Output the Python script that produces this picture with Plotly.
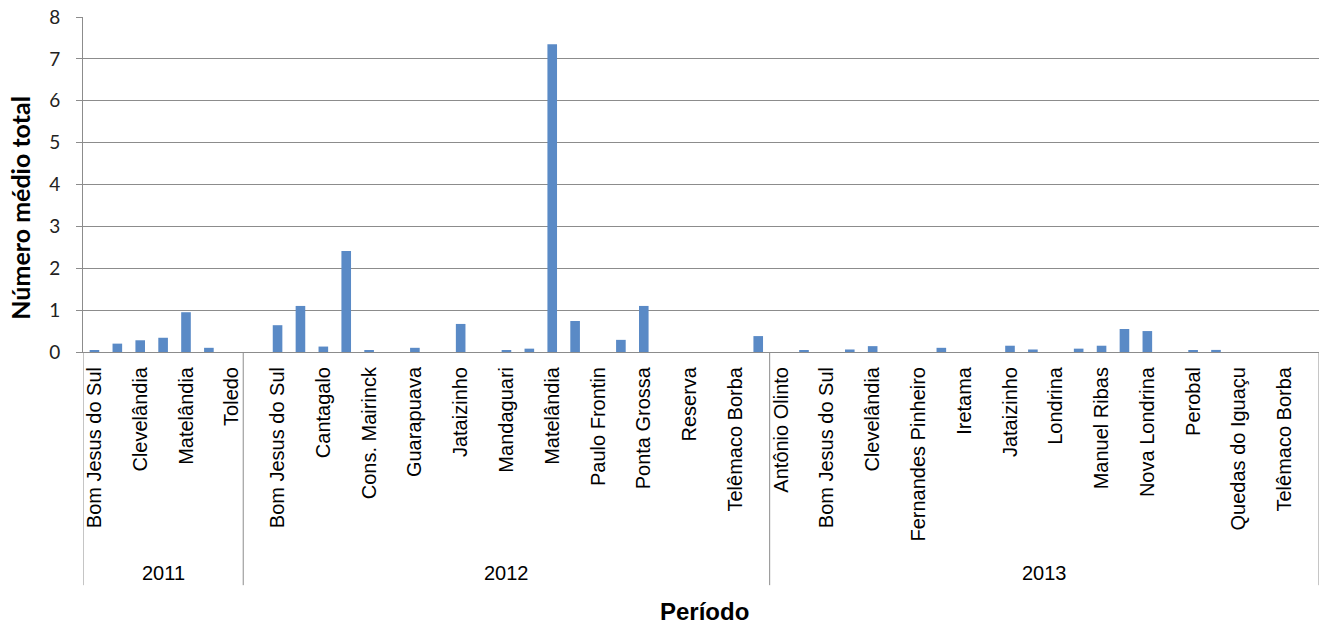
import plotly.graph_objects as go

# municipios por ano (so os de indice par aparecem no eixo, como no Excel)
cidades_2011 = ['Bom Jesus do Sul', 'Cantagalo', 'Clevelândia', 'Guarapuava',
                'Matelândia', 'Nova Londrina', 'Toledo']
valores_2011 = [0.03, 0.20, 0.28, 0.34, 0.95, 0.10, 0.0]

cidades_2012 = ['Antônio Olinto', 'Bom Jesus do Sul', 'Campo Largo', 'Cantagalo',
                'Clevelândia', 'Cons. Mairinck', 'Fernandes Pinheiro', 'Guarapuava',
                'Iretama', 'Jataizinho', 'Londrina', 'Mandaguari', 'Manuel Ribas',
                'Matelândia', 'Nova Londrina', 'Paulo Frontin', 'Perobal',
                'Ponta Grossa', 'Quedas do Iguaçu', 'Reserva', 'São Jorge',
                'Telêmaco Borba', 'Toledo']
valores_2012 = [0.0, 0.64, 1.10, 0.13, 2.41, 0.03, 0.0, 0.10,
                0.0, 0.67, 0.0, 0.03, 0.08, 7.35, 0.74, 0.0, 0.29,
                1.10, 0.0, 0.0, 0.0, 0.0, 0.38]

cidades_2013 = ['Antônio Olinto', 'Arapongas', 'Bom Jesus do Sul', 'Cantagalo',
                'Clevelândia', 'Cons. Mairinck', 'Fernandes Pinheiro', 'Guarapuava',
                'Iretama', 'Ivaiporã', 'Jataizinho', 'Laranjeiras do Sul', 'Londrina',
                'Mandaguari', 'Manuel Ribas', 'Matelândia', 'Nova Londrina',
                'Paulo Frontin', 'Perobal', 'Ponta Grossa', 'Quedas do Iguaçu',
                'Reserva', 'Telêmaco Borba', 'Toledo']
valores_2013 = [0.0, 0.03, 0.0, 0.06, 0.14, 0.0, 0.0, 0.10,
                0.0, 0.0, 0.15, 0.06, 0.0, 0.08, 0.15, 0.55, 0.50,
                0.0, 0.03, 0.05, 0.0, 0.0, 0.0, 0.0]

anos = ['2011', '2012', '2013']
grupos = [cidades_2011, cidades_2012, cidades_2013]
cidades = cidades_2011 + cidades_2012 + cidades_2013
valores = valores_2011 + valores_2012 + valores_2013
pos = list(range(len(cidades)))

fig = go.Figure()
fig.add_trace(go.Bar(x=pos, y=valores, width=0.42, marker_color='#5A8AC6',
                     marker_line_width=0))

# linhas verticais do eixo de categorias e rotulos dos anos
cinza = '#8C8C8C'
bordas = [-0.5]
for g in grupos:
    bordas.append(bordas[-1] + len(g))
for b in bordas:
    fig.add_shape(type='line', xref='x', yref='paper', x0=b, x1=b, y0=0, y1=-0.696,
                  line=dict(color=cinza, width=1))
for i, ano in enumerate(anos):
    fig.add_annotation(x=(bordas[i] + bordas[i + 1]) / 2, y=-0.66, xref='x', yref='paper',
                       text=ano, showarrow=False, yanchor='middle',
                       font=dict(family='Liberation Sans', size=20, color='#000'))

fig.add_annotation(x=0.503, y=-0.775, xref='paper', yref='paper', text='<b>Período</b>',
                   showarrow=False, yanchor='middle',
                   font=dict(family='Liberation Sans', size=24, color='#000'))
fig.add_annotation(x=-0.0512, y=0.43, xref='paper', yref='paper', text='<b>Número médio total</b>',
                   showarrow=False, textangle=-90, xanchor='center', yanchor='middle',
                   font=dict(family='Lato', size=25, color='#000'))

fig.update_xaxes(range=[-0.5, len(cidades) - 0.5], tickmode='array',
                 tickvals=pos[::2], ticktext=cidades[::2], tickangle=-90,
                 tickfont=dict(family='Liberation Sans', size=20, color='#000'),
                 ticks='', showgrid=False, zeroline=False, automargin=False,
                 showline=True, linecolor=cinza, linewidth=1, ticklabelstandoff=6)
fig.update_yaxes(range=[0, 8], dtick=1, showgrid=True, gridcolor=cinza, gridwidth=1,
                 zeroline=False, showline=True, linecolor=cinza, linewidth=1,
                 ticks='outside', ticklen=6, tickcolor=cinza, ticklabelstandoff=12,
                 automargin=False,
                 tickfont=dict(family='Lato', size=19, color='#222'))

fig.update_layout(width=1324, height=628, showlegend=False,
                  margin=dict(l=83, r=5, t=17, b=276),
                  plot_bgcolor='white', paper_bgcolor='white')

# tira a margem padrao do body para a figura ocupar a janela toda
fig.write_html('out.html', config={'displayModeBar': False},
               post_script="document.body.style.margin='0';")
